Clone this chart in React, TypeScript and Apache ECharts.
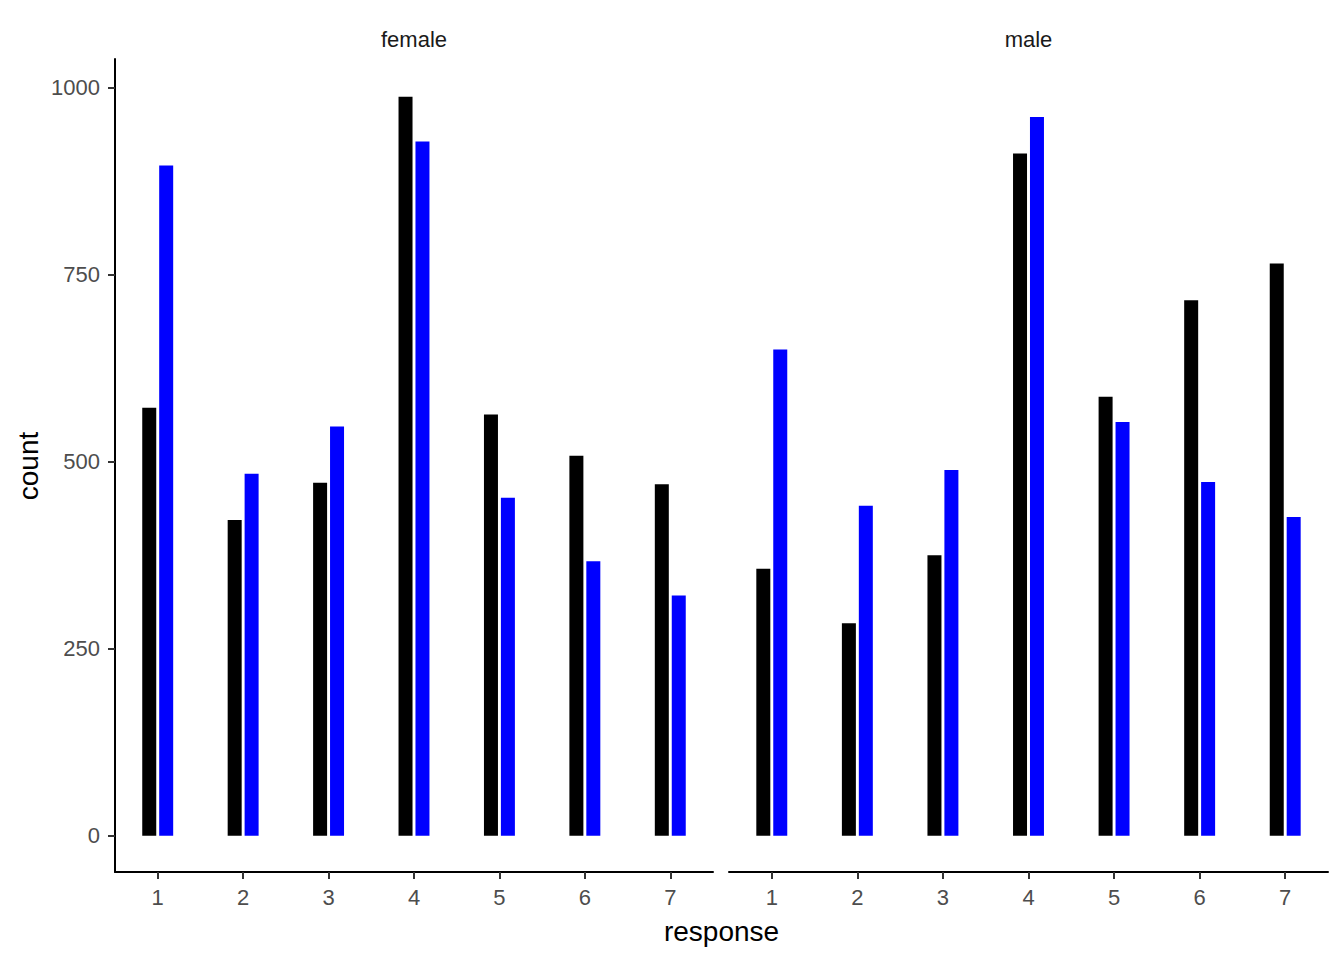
import React, { useEffect, useRef } from "react";
import * as echarts from "echarts";

const responses = ["1", "2", "3", "4", "5", "6", "7"];
const panels = ["female", "male"];
const yTicks = [0, 250, 500, 750, 1000];

const femaleBlack = [572, 422, 472, 988, 563, 508, 470];
const femaleBlue = [896, 484, 547, 928, 452, 367, 321];
const maleBlack = [357, 284, 375, 912, 587, 716, 765];
const maleBlue = [650, 441, 489, 961, 553, 473, 426];

const Y_MIN = -48.5;
const Y_MAX = 1038.4;

export default function App() {
  const ref = useRef<HTMLDivElement>(null);

  useEffect(() => {
    document.body.style.margin = "0";
    if (!ref.current) return;
    const chart = echarts.init(ref.current, null, { renderer: "svg" });
    const font = "'Liberation Sans', Arial, sans-serif";

    const grids = [
      { left: 115, width: 598, top: 59, height: 813 },
      { left: 729, width: 599, top: 59, height: 813 },
    ];

    const xAxes = [0, 1].map((i) => ({
      type: "category",
      gridIndex: i,
      data: responses,
      boundaryGap: true,
      axisLine: {
        show: true,
        onZero: false,
        lineStyle: { color: "#000000", width: 2 },
      },
      axisTick: {
        show: true,
        alignWithLabel: true,
        length: 7,
        lineStyle: { color: "#333333", width: 2 },
      },
      axisLabel: {
        color: "#4D4D4D",
        fontSize: 22,
        fontFamily: font,
        margin: 14,
      },
      splitLine: { show: false },
    }));

    const yAxes = [0, 1].map((i) => ({
      type: "value",
      gridIndex: i,
      min: Y_MIN,
      max: Y_MAX,
      axisLine: {
        show: i === 0,
        onZero: false,
        lineStyle: { color: "#000000", width: 2 },
      },
      axisTick: {
        show: i === 0,
        length: 7,
        customValues: yTicks,
        lineStyle: { color: "#333333", width: 2 },
      },
      axisLabel: {
        show: i === 0,
        customValues: yTicks,
        formatter: (v: number) => String(v),
        color: "#4D4D4D",
        fontSize: 22,
        fontFamily: font,
        margin: 15,
      },
      splitLine: { show: false },
    }));

    const mk = (name: string, data: number[], color: string, idx: number) => ({
      name,
      type: "bar",
      xAxisIndex: idx,
      yAxisIndex: idx,
      data,
      barWidth: 14,
      barGap: "21%",
      itemStyle: { color },
    });

    chart.setOption({
      animation: false,
      backgroundColor: "#FFFFFF",
      grid: grids,
      xAxis: xAxes,
      yAxis: yAxes,
      series: [
        mk("female black", femaleBlack, "#000000", 0),
        mk("female blue", femaleBlue, "#0000FF", 0),
        mk("male black", maleBlack, "#000000", 1),
        mk("male blue", maleBlue, "#0000FF", 1),
      ],
      graphic: [
        {
          type: "text",
          x: 414,
          y: 39,
          style: {
            text: panels[0],
            fontSize: 22,
            fontFamily: font,
            fill: "#1A1A1A",
            align: "center",
            verticalAlign: "middle",
          },
        },
        {
          type: "text",
          x: 1028.5,
          y: 39,
          style: {
            text: panels[1],
            fontSize: 22,
            fontFamily: font,
            fill: "#1A1A1A",
            align: "center",
            verticalAlign: "middle",
          },
        },
        {
          type: "text",
          x: 721.5,
          y: 931,
          style: {
            text: "response",
            fontSize: 28,
            fontFamily: font,
            fill: "#000000",
            align: "center",
            verticalAlign: "middle",
          },
        },
        {
          type: "text",
          x: 28,
          y: 466,
          rotation: Math.PI / 2,
          style: {
            text: "count",
            fontSize: 28,
            fontFamily: font,
            fill: "#000000",
            align: "center",
            verticalAlign: "middle",
          },
        },
      ],
    });

    return () => {
      chart.dispose();
    };
  }, []);

  return <div ref={ref} style={{ width: 1344, height: 960 }} />;
}
